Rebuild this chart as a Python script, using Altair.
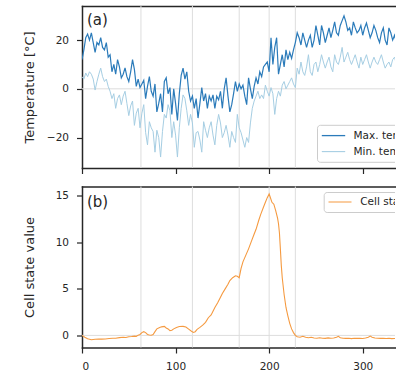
import altair as alt
import pandas as pd

# ---- data -------------------------------------------------------------
# Sampling grid (day of year) for the temperature series
temp_days = list(range(0, 340, 2))

# Daily maximum temperature [°C]
max_temp = [
    12, 16, 21, 22.5, 20, 23, 19, 15, 19, 18,
    21, 17, 16, 19, 13, 14, 7, 10, 6, 12,
    9, 4.5, 6, 8.6, 5, 3, 7, 12, 8, 1,
    4, 0.5, 2, 3.5, -4, 1, 5, -1, -3, 2,
    -9.5, -6, -2, -9.5, 3, 4.5, -2, 0.5, -10.5, 0,
    -6, -13, -2, 5.5, 8.5, 4, 7, -1, -5, -3,
    -8, -4, -12, -6, 0.5, -5, -2, -8, -3, -5,
    -2.5, -8, -3, -4.5, -1, -8, 0, 4.5, -3, -9.5,
    -6.5, -2, 3, -1, 2, 0, 1.5, -3, -6.5, 4.5,
    0, -4, 1, 4.5, 2, 7, 5, 9, 10, 11,
    7, 21, 10, 17, 21, 6, 10, 14, 9, 16,
    12, 15, 12.5, 16, 19, 23, 21, 18, 23, 20,
    17, 20, 22, 17, 20, 26, 22, 18, 26, 23,
    19, 22, 25, 21, 24, 27.5, 23, 22, 26, 28,
    30, 27.5, 24, 25, 22, 27.5, 25, 23, 24, 26,
    22, 25, 27, 24, 21, 23, 26, 24, 21, 19,
    23, 25, 20, 18, 25, 23, 20, 22, 19, 21,
]

# Daily minimum temperature [°C]
min_temp = [
    5, 4, 6.5, 5, 7, 6, 4, -0.5, 3, 6,
    8.5, 5, 3, 4, 1, -1, -4, -2, -8, -4,
    -2.5, -6.5, -3, -1, -6, -11, -7, -5, -15, -10,
    -8, -16, -10, -6.5, -18, -23, -13.5, -16, -17.5, -26,
    -17, -20, -28, -17.5, -10.5, -12, -6.5, -9, -20, -13.5,
    -19, -28, -16, -8, -2.5, -4, -9, -15, -10.5, -14,
    -24, -18, -17.5, -21, -26, -13.5, -17, -20, -16, -13.5,
    -19, -23, -15, -10.5, -14, -20, -18, -15, -19, -24,
    -17.5, -20, -22, -10.5, -16, -18, -21, -24, -20, -22,
    -14, -8, -5, -3, -1, -4, -2.5, -4, 1.5, -1,
    -3, 0.5, -2, -10.5, -4, -1, -3, 1.5, 3, 0,
    1.5, 3, 4.5, 2, 0.5, 8.5, 6, 11, 7, 5.5,
    9, 14, 7, 5.5, 10, 11, 7, 10, 14, 11,
    8.5, 11, 13, 9, 7, 14, 11, 10, 13, 17,
    11, 13, 15, 12, 10, 12, 14, 11, 8.5, 13,
    10, 12, 14, 11, 8.5, 11, 13, 11, 10, 12,
    14, 11, 8.5, 10, 11, 9, 12, 13, 10, 11,
]

# LSTM cell state trajectory
cell_days = [
    0, 3, 6, 10, 14, 18, 21, 25, 29, 33,
    36, 40, 44, 47, 50, 53, 56, 58, 60, 62,
    64, 66, 68, 70, 72, 74, 76, 78, 80, 83,
    85, 88, 90, 92, 94, 96, 98, 101, 104, 108,
    111, 114, 117, 119, 121, 123, 126, 129, 132, 135,
    138, 140, 142, 145, 148, 150, 153, 156, 158, 161,
    164, 166, 168, 170, 172, 175, 178, 181, 184, 186,
    189, 191, 194, 196, 198, 200, 201, 203, 205, 207,
    209, 210, 211, 212, 213, 214, 216, 218, 220, 222,
    224, 226, 228, 230, 233, 236, 239, 242, 245, 248,
    251, 254, 257, 260, 263, 266, 269, 272, 274, 276,
    279, 282, 285, 288, 291, 294, 297, 300, 303, 306,
    308, 310, 313, 316, 319, 322, 325, 328, 331, 334,
    337,
]
cell_state = [
    0.0, -0.2, -0.35, -0.46, -0.42, -0.4, -0.4, -0.38, -0.33, -0.3,
    -0.3, -0.24, -0.2, -0.22, -0.15, -0.12, -0.08, -0.1, 0.03, 0.1,
    0.3, 0.4, 0.3, 0.1, 0.05, 0.02, 0.1, 0.4, 0.7, 0.86,
    0.92, 0.97, 0.8, 0.7, 0.5, 0.55, 0.7, 0.86, 0.95, 0.97,
    0.9, 0.68, 0.45, 0.32, 0.4, 0.65, 0.86, 1.1, 1.4, 1.9,
    2.2, 2.6, 3.0, 3.5, 4.1, 4.5, 5.0, 5.5, 5.9, 6.2,
    6.4, 6.35, 6.2, 7.2, 7.9, 8.6, 9.3, 10.1, 10.9, 11.4,
    12.4, 13.0, 13.8, 14.3, 14.8, 15.2, 14.9, 14.3, 14.1, 13.4,
    12.6, 12.0, 11.0, 9.3, 7.5, 6.2, 4.4, 3.0, 2.1, 1.3,
    0.7, 0.3, 0.0, -0.15, -0.2, -0.1, -0.2, -0.25, -0.2, -0.28,
    -0.3, -0.25, -0.3, -0.32, -0.27, -0.3, -0.28, -0.2, -0.1, -0.25,
    -0.3, -0.32, -0.3, -0.35, -0.3, -0.32, -0.3, -0.33, -0.28, -0.2,
    -0.08, -0.2, -0.28, -0.3, -0.32, -0.3, -0.33, -0.3, -0.35, -0.33,
    -0.35,
]

# Days marked with vertical reference lines
event_days = [63, 118, 168, 200, 228]

x_ticks = [0, 100, 200, 300]
temp_ticks = [-20, 0, 20]
cell_ticks = [0, 5, 10, 15]
temp_series = ["Max. temp", "Min. temp"]
cell_series = ["Cell state"]
panel_labels = ["(a)", "(b)"]

# ---- styling ----------------------------------------------------------
INK = "#262626"
GUIDE = "#dddddd"
temp_colors = ["#2b7bba", "#a6cee3"]
temp_widths = [1.2, 1.0]
cell_colors = ["#f59a40"]
cell_widths = [1.1]

# visible part of the day axis (the figure is cropped on the right)
X_DOMAIN = [0, 334.5]
PLOT_W = 313

max_df = pd.DataFrame({"day": temp_days, "value": max_temp})
min_df = pd.DataFrame({"day": temp_days, "value": min_temp})
cell_df = pd.DataFrame({"day": cell_days, "value": cell_state})
event_df = pd.DataFrame({"day": event_days})
zero_df = pd.DataFrame({"value": [0]})


def x_scale():
    return alt.Scale(domain=X_DOMAIN, nice=False, zero=False)


def x_bottom(show_labels):
    return alt.X("day:Q", scale=x_scale(),
                 axis=alt.Axis(values=x_ticks, labels=show_labels, title=None,
                               labelPadding=8, format="d"))


def x_top():
    # top spine of the frame
    return alt.X("day:Q", scale=x_scale(),
                 axis=alt.Axis(orient="top", ticks=False, labels=False, title=None))


def y_enc(title, ticks, domain, height):
    return alt.Y(
        "value:Q",
        scale=alt.Scale(domain=domain, nice=False, zero=False),
        axis=alt.Axis(values=ticks, title=title, titleX=-48.5, titleY=height / 2,
                      titleAngle=270, titleAlign="center", titleBaseline="alphabetic",
                      labelPadding=8, format="d"),
    )


def legend_layers(names, colors, widths, box, sym_x, text_x, row_y):
    """Framed legend placed inside the plot area; clipped with the plot."""
    x0, y0, y1 = box
    layers = [
        alt.Chart(pd.DataFrame({"k": [0]})).mark_rect(
            fill="white", fillOpacity=0.85, stroke="#cccccc", strokeWidth=1,
            cornerRadius=3, clip=True,
        ).encode(x=alt.value(x0), x2=alt.value(PLOT_W + 40),
                 y=alt.value(y0), y2=alt.value(y1))
    ]
    for name, color, width, ry in zip(names, colors, widths, row_y):
        entry = pd.DataFrame({"series": [name]})
        layers.append(
            alt.Chart(entry).mark_rule(color=color, strokeWidth=width + 0.1, clip=True)
            .encode(x=alt.value(sym_x[0]), x2=alt.value(sym_x[1]), y=alt.value(ry))
        )
        layers.append(
            alt.Chart(entry).mark_text(align="left", baseline="middle", fontSize=10.5,
                                       color=INK, clip=True)
            .encode(x=alt.value(text_x), y=alt.value(ry), text="series:N")
        )
    return layers


def panel(series_frames, colors, widths, legend, label, title, ticks, domain,
          height, show_x_labels, label_y):
    xb = x_bottom(show_x_labels)
    y = y_enc(title, ticks, domain, height)
    vlines = alt.Chart(event_df).mark_rule(color=GUIDE, strokeWidth=1).encode(x=x_top())
    hline = alt.Chart(zero_df).mark_rule(color=GUIDE, strokeWidth=1).encode(y=y)
    lines = [
        alt.Chart(df).mark_line(color=c, strokeWidth=w, clip=True).encode(x=xb, y=y)
        for df, c, w in zip(series_frames, colors, widths)
    ]
    tag = alt.Chart(pd.DataFrame({"label": [label]})).mark_text(
        align="left", baseline="alphabetic", fontSize=15, color=INK
    ).encode(x=alt.value(5), y=alt.value(label_y), text="label:N")
    main = alt.layer(hline, *lines, *legend, tag)
    return (
        alt.layer(vlines, main)
        .resolve_axis(x="independent")
        .properties(width=PLOT_W, height=height)
    )


top = panel(
    [max_df, min_df], temp_colors, temp_widths,
    legend_layers(temp_series, temp_colors, temp_widths,
                  box=(235.5, 119.3, 156.3), sym_x=(239.8, 263.2), text_x=271.5,
                  row_y=[129.6, 145.6]),
    panel_labels[0], "Temperature [°C]", temp_ticks, [-32.5, 34], 162, False, 19,
)

bottom = panel(
    [cell_df], cell_colors, cell_widths,
    legend_layers(cell_series, cell_colors, cell_widths,
                  box=(242.2, 6, 26), sym_x=(246.5, 269.5), text_x=278.2,
                  row_y=[15.5]),
    panel_labels[1], "Cell state value", cell_ticks, [-1.3, 16], 161, True, 20.5,
)

chart = (
    alt.vconcat(top, bottom, spacing=10.5)
    .properties(
        padding={"left": 23, "top": 5, "right": 0, "bottom": 4},
        background="white",
    )
    .configure(font="DejaVu Sans")
    .configure_view(stroke="transparent")
    .configure_axis(
        domain=True, domainColor=INK, domainWidth=1.5, domainCap="square",
        grid=False, tickColor=INK, tickWidth=1.2, tickSize=5.5,
        labelFontSize=10.5, labelColor=INK, titleFontSize=13, titleColor=INK,
        titleFontWeight="normal",
    )
)

chart.save("out.html", embed_options={"renderer": "svg", "actions": False})
